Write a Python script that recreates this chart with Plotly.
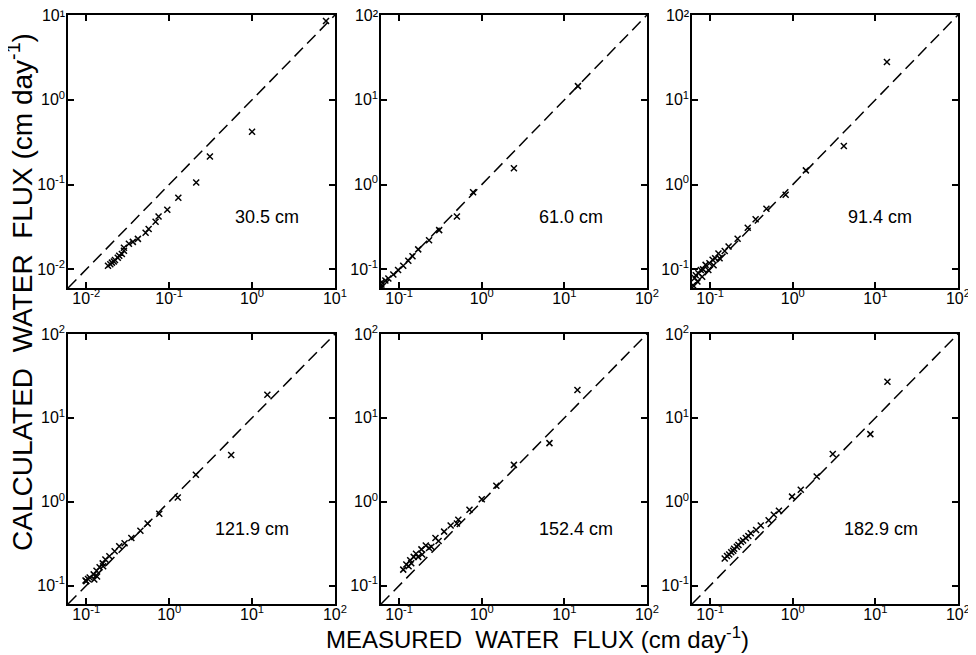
import plotly.graph_objects as go

# ---------------- data ----------------
depth_labels = ["30.5 cm", "61.0 cm", "91.4 cm", "121.9 cm", "152.4 cm", "182.9 cm"]

meas_305 = [7.8, 1.0, 0.31, 0.212, 0.129, 0.095, 0.0745, 0.0686, 0.0566, 0.052, 0.042,
            0.0365, 0.0327, 0.0285, 0.0285, 0.0269, 0.025, 0.024, 0.0222, 0.0215, 0.0204,
            0.0195, 0.0183]
calc_305 = [8.5, 0.42, 0.214, 0.106, 0.070, 0.0506, 0.042, 0.0365, 0.030, 0.027, 0.0229,
            0.0211, 0.020, 0.018, 0.0166, 0.0152, 0.0145, 0.0137, 0.0129, 0.0124, 0.012,
            0.0115, 0.011]

meas_610 = [14.6, 2.45, 0.785, 0.50, 0.305, 0.23, 0.17, 0.145, 0.129, 0.112, 0.097, 0.085,
            0.074, 0.068, 0.0615, 0.061, 0.061]
calc_610 = [14.5, 1.56, 0.81, 0.42, 0.29, 0.22, 0.172, 0.143, 0.126, 0.11, 0.098, 0.087,
            0.078, 0.074, 0.071, 0.066, 0.062]

meas_914 = [13.8, 4.15, 1.44, 0.82, 0.48, 0.355, 0.285, 0.215, 0.167, 0.15, 0.13, 0.126,
            0.115, 0.11, 0.107, 0.098, 0.095, 0.088, 0.082, 0.08, 0.077, 0.072, 0.07, 0.067,
            0.065, 0.062]
calc_914 = [28.0, 2.85, 1.47, 0.76, 0.52, 0.39, 0.31, 0.23, 0.186, 0.165, 0.135, 0.154,
            0.135, 0.112, 0.13, 0.118, 0.098, 0.113, 0.10, 0.082, 0.098, 0.09, 0.072, 0.085,
            0.079, 0.065]

meas_1219 = [15.3, 5.6, 2.1, 1.27, 0.76, 0.55, 0.45, 0.35, 0.29, 0.25, 0.22, 0.19, 0.17,
             0.16, 0.158, 0.145, 0.135, 0.133, 0.125, 0.123, 0.11, 0.105, 0.10, 0.098]
calc_1219 = [18.9, 3.6, 2.1, 1.12, 0.72, 0.55, 0.45, 0.37, 0.32, 0.295, 0.257, 0.224, 0.205,
             0.17, 0.184, 0.165, 0.128, 0.15, 0.118, 0.136, 0.125, 0.12, 0.113, 0.115]

meas_1524 = [14.4, 6.6, 2.45, 1.5, 1.0, 0.71, 0.52, 0.50, 0.42, 0.35, 0.30, 0.275, 0.245,
             0.23, 0.21, 0.19, 0.186, 0.17, 0.16, 0.15, 0.14, 0.136, 0.13, 0.122, 0.112]
calc_1524 = [21.5, 5.0, 2.75, 1.55, 1.07, 0.80, 0.61, 0.55, 0.52, 0.44, 0.34, 0.37, 0.29,
             0.28, 0.30, 0.235, 0.27, 0.22, 0.24, 0.22, 0.185, 0.20, 0.17, 0.178, 0.155]

meas_1829 = [14.0, 8.7, 3.05, 1.95, 1.25, 0.98, 0.68, 0.59, 0.51, 0.41, 0.36, 0.31, 0.29,
             0.27, 0.25, 0.236, 0.22, 0.21, 0.195, 0.19, 0.18, 0.17, 0.16, 0.15]
calc_1829 = [27.0, 6.4, 3.7, 2.0, 1.39, 1.15, 0.78, 0.70, 0.60, 0.52, 0.46, 0.42, 0.39,
             0.37, 0.345, 0.33, 0.305, 0.29, 0.275, 0.26, 0.25, 0.235, 0.225, 0.21]

tickvals_a = [0.01, 0.1, 1, 10]
ticktext_a = ["10<sup>-2</sup>", "10<sup>-1</sup>", "10<sup>0</sup>", "10<sup>1</sup>"]
tickvals_b = [0.1, 1, 10, 100]
ticktext_b = ["10<sup>-1</sup>", "10<sup>0</sup>", "10<sup>1</sup>", "10<sup>2</sup>"]
# top-row y labels: the topmost label sits at the page edge, so its exponent is
# written with a Unicode superscript to keep it inside the figure
ticktext_a_top = ["10<sup>-2</sup>", "10<sup>-1</sup>", "10<sup>0</sup>", "10¹"]
ticktext_b_top = ["10<sup>-1</sup>", "10<sup>0</sup>", "10<sup>1</sup>", "10²"]

range_a = [-2.22, 1.0005]
range_b = [-1.22, 2.0005]

y_title = "CALCULATED  WATER  FLUX (cm day<sup>-1</sup>)"
x_title = "MEASURED  WATER  FLUX (cm day<sup>-1</sup>)"

# ---------------- layout geometry (page body has an 8px margin) ----------------
W, H = 968, 647
OFF = 8
x_doms = [(68, 335), (381, 647), (692, 958)]
y_doms = [(15, 288), (334, 604)]  # top, bottom in window pixels

panels = [
    (meas_305, calc_305, range_a, tickvals_a, ticktext_a, ticktext_a_top, (0.745, 0.26)),
    (meas_610, calc_610, range_b, tickvals_b, ticktext_b, ticktext_b_top, (0.714, 0.26)),
    (meas_914, calc_914, range_b, tickvals_b, ticktext_b, ticktext_b_top, (0.707, 0.26)),
    (meas_1219, calc_1219, range_b, tickvals_b, ticktext_b, ticktext_b, (0.689, 0.278)),
    (meas_1524, calc_1524, range_b, tickvals_b, ticktext_b, ticktext_b, (0.734, 0.278)),
    (meas_1829, calc_1829, range_b, tickvals_b, ticktext_b, ticktext_b, (0.712, 0.278)),
]

FONT = "Liberation Sans"
fig = go.Figure()
layout = dict(
    template="none",
    width=W, height=H,
    margin=dict(l=0, r=0, t=0, b=0, pad=0, autoexpand=False),
    paper_bgcolor="white", plot_bgcolor="white",
    showlegend=False,
    font=dict(family=FONT, color="black"),
)
annotations = []

for i, (mx, cy, rng, tv, ttx, tty, lab) in enumerate(panels):
    row, col = divmod(i, 3)
    n = "" if i == 0 else str(i + 1)
    xa, ya = "x" + n, "y" + n
    x0, x1 = x_doms[col]
    yt, yb = y_doms[row]
    axis_common = dict(
        type="log", range=rng, tickvals=tv, automargin=False,
        ticks="inside", ticklen=6, tickwidth=1.5, tickcolor="black",
        showline=True, linecolor="black", linewidth=1.5, mirror="ticks",
        showgrid=False, zeroline=False, ticklabeloverflow="allow",
        tickfont=dict(family=FONT, size=16, color="black"),
    )
    layout["xaxis" + n] = dict(axis_common, ticktext=ttx,
                               domain=[(x0 - OFF) / W, (x1 - OFF) / W], anchor=ya,
                               ticklabelstandoff=-5)
    layout["yaxis" + n] = dict(axis_common, ticktext=tty,
                               domain=[1 - (yb - OFF) / H, 1 - (yt - OFF) / H], anchor=xa,
                               ticklabelstandoff=-2)

    lo, hi = 10 ** rng[0], 10 ** rng[1]
    fig.add_trace(go.Scatter(
        x=[lo, hi], y=[lo, hi], mode="lines", xaxis=xa, yaxis=ya,
        line=dict(color="black", width=1.5, dash="12px,6px"), hoverinfo="skip"))
    fig.add_trace(go.Scatter(
        x=mx, y=cy, mode="markers", xaxis=xa, yaxis=ya,
        marker=dict(symbol="x-thin-open", size=6, color="black",
                    line=dict(color="black", width=1.5))))
    annotations.append(dict(
        text=depth_labels[i], xref=xa + " domain", yref=ya + " domain",
        x=lab[0], y=lab[1], xanchor="center", yanchor="middle", showarrow=False,
        font=dict(family=FONT, size=18, color="black")))

annotations.append(dict(
    text=y_title, xref="paper", yref="paper",
    x=(20 - OFF) / W, y=1 - (292 - OFF) / H, xanchor="center", yanchor="middle",
    textangle=-90, showarrow=False,
    font=dict(family=FONT, size=28, color="black")))
annotations.append(dict(
    text=x_title, xref="paper", yref="paper",
    x=(537 - OFF) / W, y=1 - (638 - OFF) / H, xanchor="center", yanchor="middle",
    showarrow=False, font=dict(family=FONT, size=24, color="black")))

layout["annotations"] = annotations
fig.update_layout(**layout)
fig.write_html("out.html")
